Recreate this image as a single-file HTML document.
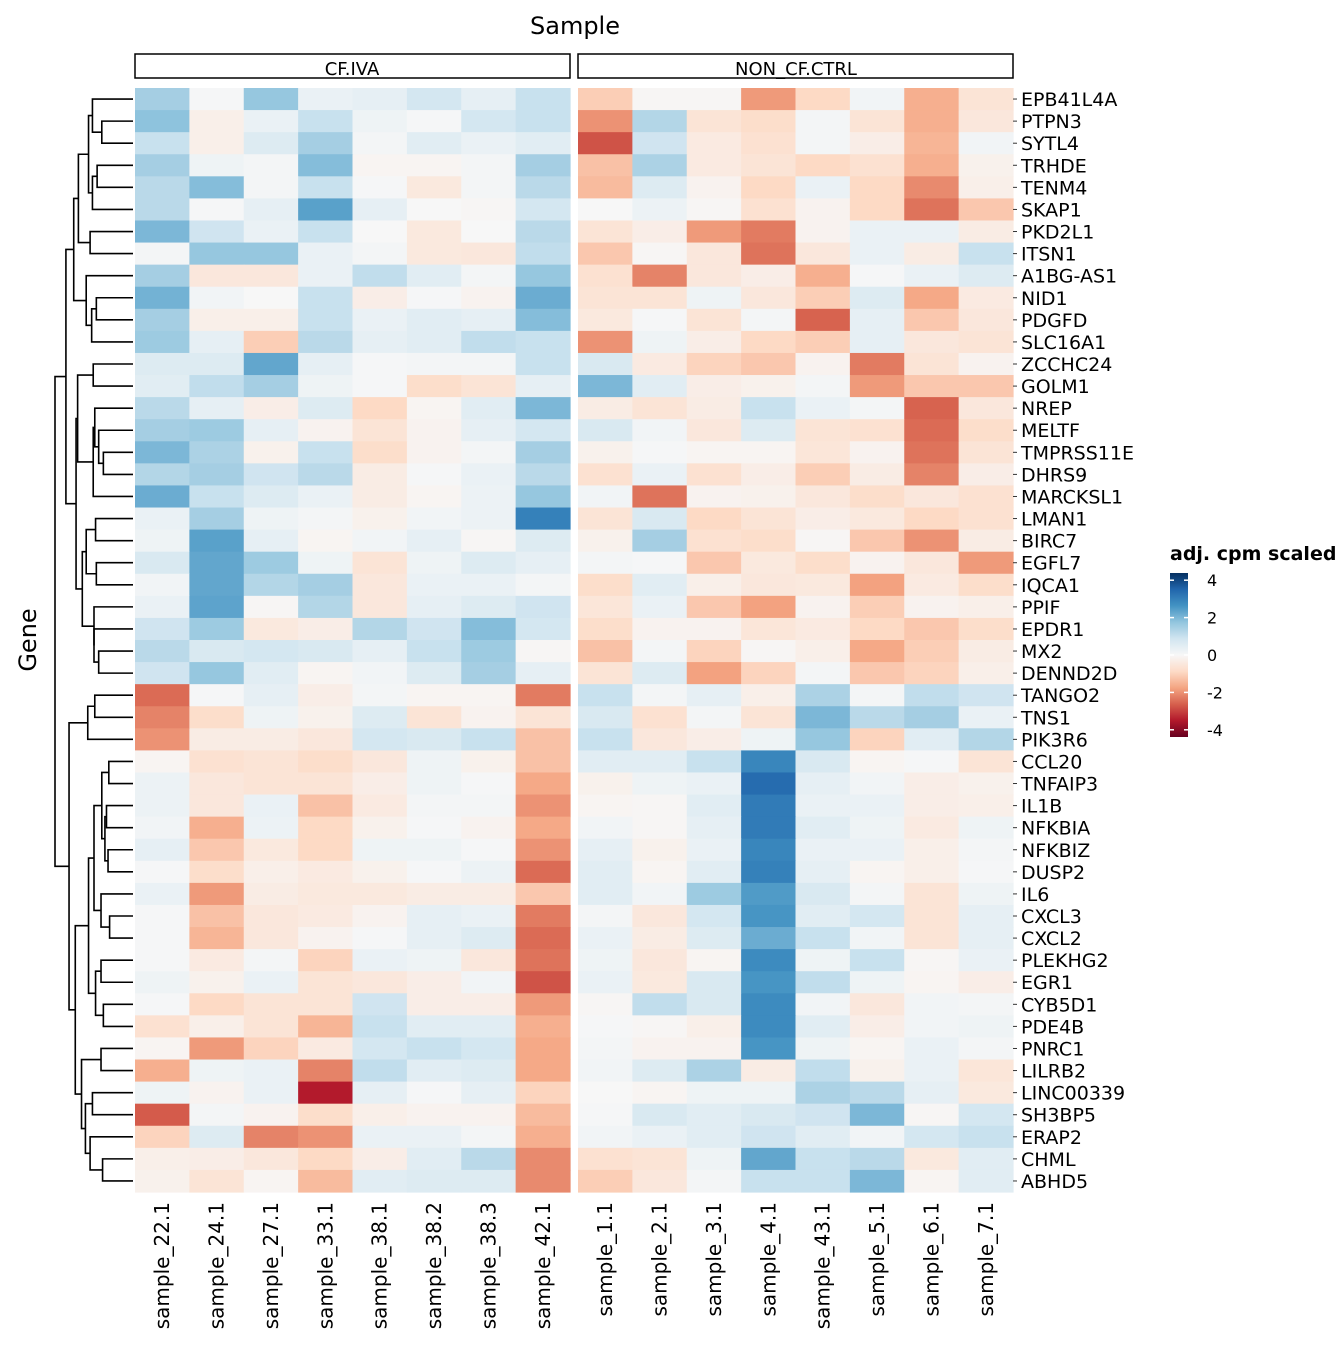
<!DOCTYPE html>
<html><head><meta charset="utf-8"><style>
html,body{margin:0;padding:0;background:#fff}
svg text{font-family:"DejaVu Sans","Liberation Sans",sans-serif}
</style></head><body>
<svg id="chart" width="1344" height="1344" viewBox="0 0 1344 1344" xmlns="http://www.w3.org/2000/svg">
<text x="575" y="34" font-size="24" text-anchor="middle">Sample</text>
<text transform="translate(36,640) rotate(-90)" font-size="24" text-anchor="middle">Gene</text>
<rect x="135" y="54" width="435" height="24" fill="#fff" stroke="#000" stroke-width="1.5"/>
<text x="352" y="75" font-size="18" text-anchor="middle">CF.IVA</text>
<rect x="578" y="54" width="435" height="24" fill="#fff" stroke="#000" stroke-width="1.5"/>
<text x="796" y="75" font-size="18" text-anchor="middle">NON_CF.CTRL</text>
<g id="cells"></g>
<g id="rowlabels"></g>
<g id="collabels"></g>
<g id="dendro" stroke="#000" stroke-width="1.6" fill="none"></g>
<g>
<text x="1170" y="560" font-size="19" font-weight="bold">adj. cpm scaled</text>
<defs><linearGradient id="grad" x1="0" y1="1" x2="0" y2="0">
<stop offset="0" stop-color="#67001f"/><stop offset="0.1" stop-color="#b2182b"/><stop offset="0.2" stop-color="#d6604d"/><stop offset="0.3" stop-color="#f4a582"/><stop offset="0.4" stop-color="#fddbc7"/><stop offset="0.5" stop-color="#f7f7f7"/><stop offset="0.6" stop-color="#d1e5f0"/><stop offset="0.7" stop-color="#92c5de"/><stop offset="0.8" stop-color="#4393c3"/><stop offset="0.9" stop-color="#2166ac"/><stop offset="1" stop-color="#053061"/>
</linearGradient></defs>
<rect x="1170" y="573" width="18" height="164" fill="url(#grad)"/>
<g id="legticks"></g>
</g>
</svg>
<script>
const genes=["EPB41L4A","PTPN3","SYTL4","TRHDE","TENM4","SKAP1","PKD2L1","ITSN1","A1BG-AS1","NID1","PDGFD","SLC16A1","ZCCHC24","GOLM1","NREP","MELTF","TMPRSS11E","DHRS9","MARCKSL1","LMAN1","BIRC7","EGFL7","IQCA1","PPIF","EPDR1","MX2","DENND2D","TANGO2","TNS1","PIK3R6","CCL20","TNFAIP3","IL1B","NFKBIA","NFKBIZ","DUSP2","IL6","CXCL3","CXCL2","PLEKHG2","EGR1","CYB5D1","PDE4B","PNRC1","LILRB2","LINC00339","SH3BP5","ERAP2","CHML","ABHD5"];
const samplesCF=["sample_22.1","sample_24.1","sample_27.1","sample_33.1","sample_38.1","sample_38.2","sample_38.3","sample_42.1"];
const samplesCtrl=["sample_1.1","sample_2.1","sample_3.1","sample_4.1","sample_43.1","sample_5.1","sample_6.1","sample_7.1"];
const valuesCF=[
[1.5,0.05,1.7,0.3,0.4,0.8,0.4,1.0],[1.8,-0.25,0.3,1.0,0.2,0.05,0.8,1.0],[1.0,-0.25,0.6,1.5,0.1,0.5,0.3,0.5],[1.5,0.2,0.1,1.9,-0.1,-0.1,0.1,1.5],[1.2,1.9,0.1,1.0,0.05,-0.45,0.1,1.2],
[1.2,0.05,0.4,2.4,0.4,0,-0.05,0.8],[2.0,0.9,0.3,1.0,0,-0.45,0,1.2],[0.1,1.7,1.7,0.3,0.1,-0.45,-0.5,1.1],[1.5,-0.5,-0.5,0.3,1.1,0.5,0.1,1.7],[2.1,0.15,0,1.0,-0.3,0.05,-0.15,2.2],
[1.5,-0.25,-0.25,1.0,0.3,0.5,0.4,1.9],[1.6,0.4,-1.1,1.2,0.4,0.5,1.1,1.0],[0.6,0.6,2.3,0.4,0.05,0.1,0.1,1.0],[0.5,1.1,1.5,0.2,0.05,-0.8,-0.6,0.4],[1.2,0.4,-0.3,0.6,-0.9,-0.1,0.5,2.0],
[1.5,1.6,0.4,-0.15,-0.6,-0.15,0.4,0.8],[2.0,1.4,-0.2,1.0,-0.8,-0.15,0.1,1.5],[1.3,1.5,0.9,1.2,-0.35,0.05,0.3,1.2],[2.2,1.0,0.6,0.3,-0.35,-0.1,0.25,1.7],[0.3,1.5,0.2,0.1,-0.2,0.15,0.25,3.0],
[0.2,2.4,0.4,-0.1,0.15,0.4,-0.05,0.6],[0.7,2.3,1.6,0.2,-0.6,0.2,0.6,0.4],[0.15,2.3,1.3,1.5,-0.5,0.3,0.3,0.1],[0.3,2.35,-0.05,1.3,-0.5,0.4,0.6,0.9],[0.9,1.6,-0.45,-0.3,1.3,0.9,1.9,0.8],
[1.2,0.7,0.8,0.7,0.4,1.0,1.6,-0.05],[0.9,1.7,0.5,-0.1,0.15,0.6,1.5,0.4],[-2.5,0.05,0.4,-0.3,0.1,-0.1,-0.1,-2.3],[-2.2,-0.8,0.2,-0.2,0.6,-0.6,-0.15,-0.6],[-2.0,-0.35,-0.35,-0.5,0.8,0.7,1.0,-1.3],
[-0.1,-0.7,-0.6,-0.8,-0.5,0.2,-0.2,-1.3],[0.25,-0.5,-0.6,-0.6,-0.3,0.2,0.05,-1.7],[0.25,-0.5,0.3,-1.3,-0.4,0.1,0.1,-2.0],[0.15,-1.6,0.25,-0.9,-0.2,0.05,-0.15,-1.7],[0.4,-1.2,-0.45,-0.9,0.2,0.2,0.05,-2.0],
[0.05,-0.8,-0.25,-0.4,-0.2,0.05,0.25,-2.5],[0.3,-1.9,-0.35,-0.45,-0.45,-0.35,-0.35,-1.2],[0.05,-1.3,-0.5,-0.4,-0.15,0.4,0.3,-2.3],[0.05,-1.5,-0.5,-0.15,0.05,0.4,0.6,-2.5],[0.05,-0.4,0.1,-1.0,0.3,0.2,-0.5,-2.4],
[0.2,-0.2,0.3,-0.6,-0.5,-0.3,0.15,-2.8],[0.05,-0.9,-0.6,-0.6,0.9,-0.3,-0.3,-1.9],[-0.7,-0.25,-0.6,-1.5,1.0,0.5,0.5,-1.6],[-0.1,-1.9,-1.0,-0.4,0.8,1.0,0.8,-1.7],[-1.6,0.2,0.3,-2.2,1.1,0.5,0.6,-1.7],
[0.2,-0.15,0.3,-3.5,0.4,0.05,0.4,-1.0],[-2.7,0.1,-0.15,-0.8,-0.25,-0.15,-0.15,-1.4],[-1.0,0.6,-2.2,-2.0,0.3,0.3,0.1,-1.6],[-0.25,-0.3,-0.5,-0.9,-0.3,0.5,1.2,-2.1],[-0.2,-0.6,-0.1,-1.4,0.5,0.6,0.6,-2.1]];
const valuesCtrl=[
[-1.1,-0.05,-0.05,-1.9,-0.9,0.15,-1.6,-0.6],[-2.0,1.3,-0.6,-0.8,0.1,-0.6,-1.6,-0.5],[-2.8,0.9,-0.4,-0.7,0.1,-0.3,-1.5,0.15],[-1.3,1.4,-0.4,-0.6,-0.9,-0.7,-1.6,-0.2],[-1.4,0.6,-0.15,-0.9,0.3,-0.9,-2.1,-0.25],
[0,0.25,-0.05,-0.7,-0.15,-0.9,-2.4,-1.2],[-0.6,-0.3,-1.9,-2.3,-0.15,0.3,0.3,-0.35],[-1.2,-0.05,-0.5,-2.4,-0.5,0.3,-0.35,1.0],[-0.7,-2.2,-0.5,-0.3,-1.6,0.05,0.3,0.6],[-0.6,-0.6,0.2,-0.5,-1.1,0.6,-1.7,-0.4],
[-0.45,0.05,-0.6,0.1,-2.6,0.4,-1.2,-0.5],[-2.0,0.2,-0.3,-0.9,-1.1,0.4,-0.5,-0.6],[0.7,-0.4,-1.0,-1.2,-0.15,-2.3,-0.6,-0.15],[2.0,0.5,-0.3,-0.2,0.1,-1.9,-1.2,-1.2],[-0.35,-0.6,-0.35,1.0,0.3,0.1,-2.6,-0.5],
[0.7,0.15,-0.5,0.6,-0.6,-0.7,-2.5,-0.8],[-0.2,0.05,-0.1,-0.1,-0.55,-0.15,-2.4,-0.6],[-0.7,0.3,-0.7,-0.3,-1.1,-0.35,-2.2,-0.3],[0.15,-2.4,-0.15,-0.2,-0.5,-0.8,-0.5,-0.7],[-0.6,0.7,-0.9,-0.6,-0.3,-0.45,-0.9,-0.7],
[-0.2,1.5,-0.7,-0.8,-0.05,-1.2,-2.0,-0.35],[0.1,0.05,-1.2,-0.45,-0.8,-0.15,-0.5,-1.9],[-0.8,0.5,-0.25,-0.5,-0.45,-1.8,-0.4,-0.8],[-0.55,0.3,-1.2,-1.8,-0.15,-1.1,-0.15,-0.25],[-0.8,-0.15,-0.15,-0.55,-0.4,-0.9,-1.2,-0.8],
[-1.3,0.1,-1.0,-0.05,-0.25,-1.7,-1.1,-0.35],[-0.6,0.6,-1.8,-1.0,0.1,-1.2,-1.0,-0.25],[1.0,0.1,0.4,-0.25,1.4,0.1,1.1,0.9],[0.7,-0.7,0.1,-0.6,2.0,1.2,1.5,0.3],[1.0,-0.5,-0.3,0.2,1.7,-1.0,0.5,1.3],
[0.5,0.5,1.0,2.9,0.7,-0.1,0.05,-0.6],[-0.2,0.2,0.3,3.4,0.4,0.15,-0.3,-0.2],[-0.1,-0.05,0.5,3.1,0.3,0.3,-0.3,-0.25],[0.15,-0.05,0.4,3.1,0.5,0.2,-0.4,0.2],[0.4,-0.2,0.3,2.9,0.3,0.3,-0.25,0.1],
[0.5,-0.1,0.5,3.0,0.4,-0.1,-0.25,0.05],[0.5,0.15,1.6,2.5,0.7,0.1,-0.6,0.2],[0.1,-0.5,0.8,2.6,0.5,0.8,-0.6,0.4],[0.3,-0.35,0.6,2.2,1.0,0.15,-0.6,0.4],[0.2,-0.5,-0.1,2.8,0.2,1.0,-0.05,0.3],
[0.3,-0.45,0.7,2.6,1.1,0.2,-0.1,-0.3],[-0.05,1.1,0.7,2.8,0.15,-0.5,0.15,0.1],[0.05,-0.05,-0.25,2.8,0.5,-0.3,0.15,0.2],[0.1,-0.15,-0.15,2.6,0.2,-0.1,0.3,0.1],[0.15,0.6,1.4,-0.35,1.1,-0.2,0.3,-0.55],
[0,-0.1,0.2,0.2,1.4,1.2,0.4,-0.45],[0.05,0.7,0.5,0.7,0.9,2.0,-0.05,0.8],[0.15,0.3,0.5,0.9,0.5,0.15,0.8,1.0],[-0.7,-0.6,0.2,2.3,1.0,1.2,-0.45,0.5],[-1.1,-0.5,0.1,1.0,1.0,2.0,-0.1,0.5]];
const legendTicks=[4,2,0,-2,-4];
const merges=[
[1,2,0.40],["m0",0,0.52],[3,4,0.46],["m2",5,0.52],["m1","m3",0.57],[6,7,0.55],["m4","m5",0.70],
[9,10,0.47],["m7",11,0.53],[8,"m8",0.60],["m6","m9",0.76],
[12,13,0.51],[16,17,0.38],[15,"m12",0.44],[14,"m13",0.49],["m14",18,0.51],["m11","m15",0.71],
[19,20,0.48],[21,22,0.47],["m17","m18",0.60],[25,26,0.44],[24,"m20",0.50],[23,"m21",0.50],["m19","m22",0.65],
["m16","m23",0.73],["m10","m24",0.86],
[27,28,0.49],["m26",29,0.58],
[30,31,0.31],[32,33,0.34],[34,35,0.32],["m29","m30",0.36],["m28","m31",0.40],[37,38,0.30],[36,"m33",0.41],["m32","m34",0.50],
[39,40,0.41],[41,42,0.38],["m36","m37",0.48],["m35","m38",0.57],
[43,44,0.41],[45,46,0.52],[48,49,0.39],[47,"m42",0.55],["m41","m43",0.61],["m40","m44",0.66],["m39","m45",0.74],["m27","m46",0.82],
["m25","m47",1.00]];

const NS="http://www.w3.org/2000/svg";
const top0=88,rowH=22.08,leftX=135,rightX=578,colW=54.375;
const yRow=i=>top0+rowH*i;
const xCol=(p,j)=>(p===0?leftX:rightX)+colW*j;
const stops=[[-4.4,[103,0,31]],[-3.52,[178,24,43]],[-2.64,[214,96,77]],[-1.76,[244,165,130]],[-0.88,[253,219,199]],[0,[247,247,247]],[0.88,[209,229,240]],[1.76,[146,197,222]],[2.64,[67,147,195]],[3.52,[33,102,172]],[4.4,[5,48,97]]];
function color(v){v=Math.max(-4.4,Math.min(4.4,v));for(let k=0;k<stops.length-1;k++){const a=stops[k],b=stops[k+1];if(v<=b[0]){const t=(v-a[0])/(b[0]-a[0]);const c=a[1].map((x,i)=>Math.round(x+(b[1][i]-x)*t));return`rgb(${c})`;}}return"rgb(5,48,97)";}
function mk(tag,attrs,parent){const e=document.createElementNS(NS,tag);for(const k in attrs)e.setAttribute(k,attrs[k]);parent.appendChild(e);return e;}
const cells=document.getElementById('cells');
[valuesCF,valuesCtrl].forEach((mat,p)=>{mat.forEach((row,i)=>row.forEach((v,j)=>{
 const r=mk('rect',{x:xCol(p,j).toFixed(2),y:yRow(i).toFixed(2),width:(colW+0.6).toFixed(2),height:(rowH+0.6).toFixed(2),fill:color(v)},cells);
 
 
}));});
const rl=document.getElementById('rowlabels');
genes.forEach((g,i)=>{const t=mk('text',{x:1021,y:(yRow(i)+rowH/2+7).toFixed(1),'font-size':19},rl);t.textContent=g;
 
 
 mk('line',{x1:1013,x2:1017,y1:yRow(i)+rowH/2,y2:yRow(i)+rowH/2,stroke:'#333','stroke-width':1},rl);
});
const cl=document.getElementById('collabels');
[samplesCF,samplesCtrl].forEach((arr,p)=>arr.forEach((s,j)=>{const x=xCol(p,j)+colW/2+7;
 const t=mk('text',{transform:`translate(${x.toFixed(1)},1202) rotate(-90)`,'font-size':20,'text-anchor':'end'},cl);t.textContent=s;
 
 
}));
const dg=document.getElementById('dendro');
const xH=h=>133-h*(133-55);
const nodes={};
function pos(c){if(typeof c==='number')return{y:yRow(c)+rowH/2,x:133};return nodes[c];}
merges.forEach((m,k)=>{const a=pos(m[0]),b=pos(m[1]),x=xH(m[2]);
 const pth=mk('path',{d:`M${a.x},${a.y}H${x}V${b.y}H${b.x}`},dg);
 
 
 nodes['m'+k]={x:x,y:(a.y+b.y)/2};});
const lt=document.getElementById('legticks');
legendTicks.forEach(v=>{const y=655-v*18.7;
 mk('line',{x1:1170,x2:1174,y1:y,y2:y,stroke:'#fff','stroke-width':1.5},lt);
 mk('line',{x1:1184,x2:1188,y1:y,y2:y,stroke:'#fff','stroke-width':1.5},lt);
 const t=mk('text',{x:1207,y:y+6,'font-size':16},lt);t.textContent=v;
 
 
});
</script>
</body></html>
